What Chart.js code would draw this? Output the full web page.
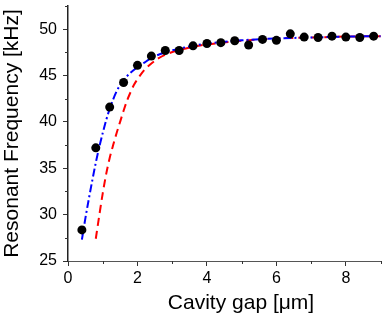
<!DOCTYPE html>
<html>
<head>
<meta charset="utf-8">
<script src="https://cdn.jsdelivr.net/npm/chart.js@4"></script>
<style>
html,body{margin:0;padding:0;background:#fff;}
#wrap{width:382px;height:319px;position:relative;}
</style>
</head>
<body>
<div id="wrap"><canvas id="c" width="382" height="319"></canvas></div>
<script>
// Measured data
const gapX = [0.4,0.8,1.2,1.6,2.0,2.4,2.8,3.2,3.6,4.0,4.4,4.8,5.2,5.6,6.0,6.4,6.8,7.2,7.6,8.0,8.4,8.8];
const freqY = [28.35,37.2,41.6,44.25,46.1,47.1,47.7,47.7,48.2,48.45,48.55,48.75,48.3,48.9,48.8,49.5,49.15,49.1,49.25,49.15,49.1,49.25];

// Blue dash-dot fit curve
const blueX = [0.4,0.5,0.6,0.7,0.8,0.9,1.0,1.1,1.2,1.4,1.6,1.8,2.0,2.2,2.4,2.8,3.2,3.6,4.0,5.0,6.0,7.0,8.0,9.0];
const blueY = [27.3,29.6,31.7,33.7,35.6,37.3,38.8,40.2,41.4,43.3,44.5,45.3,45.9,46.4,46.9,47.5,47.9,48.2,48.45,48.8,49.0,49.1,49.2,49.25];

// Red dashed fit curve
const redX = [0.8,0.9,1.0,1.1,1.2,1.3,1.4,1.5,1.6,1.7,1.8,1.9,2.0,2.2,2.4,2.6,2.8,3.2,3.6,4.0,5.0,6.0,7.0,8.0,9.0];
const redY = [27.4,29.9,32.3,34.4,36.1,37.5,38.8,40.0,41.2,42.3,43.2,44.0,44.6,45.6,46.3,46.85,47.25,47.75,48.1,48.35,48.75,49.0,49.1,49.2,49.25];

const xTicksMajor = [0,2,4,6,8];
const yTicksMajor = [25,30,35,40,45,50];
const xTitle = 'Cavity gap [\u03bcm]';
const yTitle = 'Resonant Frequency [kHz]';

const FONT = '"Liberation Sans", Arial, sans-serif';
const xyPairs = (xs, ys) => xs.map((x,i)=>({x:x,y:ys[i]}));

const extras = {
  id:'extras',
  afterDraw(chart){
    const ctx = chart.ctx, xs = chart.scales.x, ys = chart.scales.y;
    ctx.save();
    ctx.strokeStyle = '#333';
    ctx.lineWidth = 1;
    for (let v = 1; v <= 9; v += 2){
      const px = Math.round(xs.getPixelForValue(v)) + 0.5;
      if (px > chart.width) continue;
      ctx.beginPath(); ctx.moveTo(px, ys.bottom); ctx.lineTo(px, ys.bottom+3); ctx.stroke();
    }
    for (let v = 27.5; v <= 52.5; v += 5){
      const py = Math.round(ys.getPixelForValue(v)) + 0.5;
      ctx.beginPath(); ctx.moveTo(xs.left-3, py); ctx.lineTo(xs.left, py); ctx.stroke();
    }
    // x axis title (offset right of centre, as in the reference)
    ctx.fillStyle = '#000';
    ctx.font = '21px ' + FONT;
    ctx.textAlign = 'center';
    ctx.textBaseline = 'middle';
    ctx.fillText(xTitle, (xs.left + xs.right)/2 + 16, ys.bottom + 42);
    ctx.restore();
  }
};

new Chart(document.getElementById('c'), {
  type:'scatter',
  data:{
    datasets:[
      {data:xyPairs(gapX,freqY), showLine:false, pointRadius:4.5, pointBackgroundColor:'#000', pointBorderColor:'#000', pointBorderWidth:0, order:0},
      {data:xyPairs(blueX,blueY), showLine:true, pointRadius:0, borderColor:'#0000ff', borderWidth:2, borderDash:[8,3,2,3], cubicInterpolationMode:'monotone', order:1},
      {data:xyPairs(redX,redY), showLine:true, pointRadius:0, borderColor:'#ff0000', borderWidth:2, borderDash:[8,5], cubicInterpolationMode:'monotone', order:2}
    ]
  },
  options:{
    responsive:false,
    animation:false,
    layout:{autoPadding:false, padding:{top:6,right:0,left:0,bottom:0}},
    plugins:{legend:{display:false}, tooltip:{enabled:false}},
    scales:{
      x:{
        type:'linear', min:0, max:9.04,
        afterBuildTicks(s){ s.ticks = xTicksMajor.map(v=>({value:v})); },
        afterFit(s){ s.height = 58; s.paddingRight = 0; },
        border:{display:true, color:'#555', width:1},
        grid:{display:true, drawOnChartArea:false, drawTicks:true, tickLength:5, color:'#333'},
        ticks:{color:'#000', font:{family:FONT, size:16}, padding:3, maxRotation:0},
        title:{display:false}
      },
      y:{
        type:'linear', min:25, max:52.5,
        afterBuildTicks(s){ s.ticks = yTicksMajor.map(v=>({value:v})); },
        afterFit(s){ s.width = 68; s.paddingTop = 0; },
        border:{display:true, color:'#222', width:1.5},
        grid:{display:true, drawOnChartArea:false, drawTicks:true, tickLength:5, color:'#333'},
        ticks:{color:'#000', font:{family:FONT, size:16}, padding:6},
        title:{display:true, text:yTitle, color:'#000', font:{family:FONT, size:21}, padding:{top:0,bottom:2}}
      }
    }
  },
  plugins:[extras]
});
</script>
</body>
</html>
